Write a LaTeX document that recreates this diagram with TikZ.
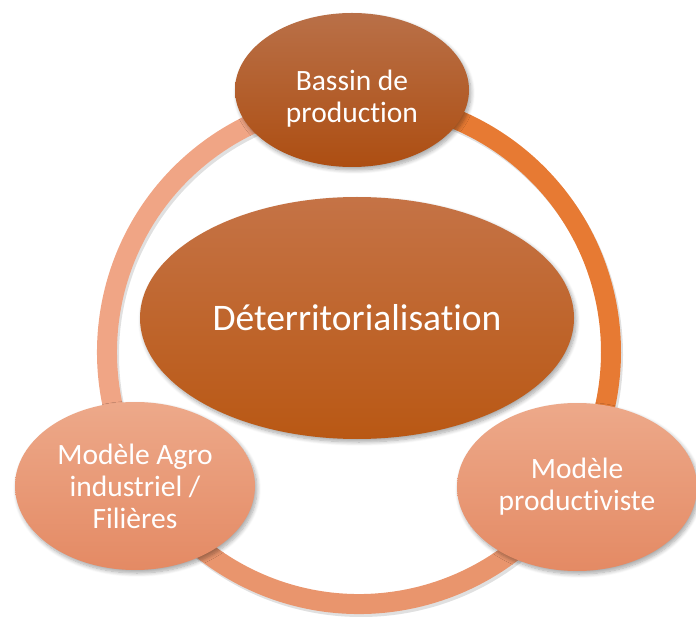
\documentclass[tikz,border=0pt]{standalone}
\usepackage{fontspec}
\setmainfont{Carlito}[Ligatures=NoCommon]
\usetikzlibrary{shapes.geometric,shadows.blur}
\definecolor{ringL}{HTML}{F0A585}
\definecolor{ringR}{HTML}{E77A33}
\definecolor{ringB}{HTML}{E9956D}
\definecolor{darkTop}{HTML}{B97048}
\definecolor{darkBot}{HTML}{AD4E12}
\definecolor{midTop}{HTML}{C57346}
\definecolor{midBot}{HTML}{B95814}
\definecolor{lightTop}{HTML}{EDA98A}
\definecolor{lightBot}{HTML}{E48A64}
\begin{document}
\begin{tikzpicture}[x=1pt,y=-1pt,
  bub/.style={ellipse, inner sep=0pt, text=white, align=center,
    blur shadow={shadow xshift=2pt, shadow yshift=-3pt, shadow opacity=35, shadow blur steps=8, shadow blur radius=4pt}},
  darkbub/.style={bub, top color=darkTop, bottom color=darkBot},
  midbub/.style={bub, top color=midTop, bottom color=midBot},
  lightbub/.style={bub, top color=lightTop, bottom color=lightBot},
  smalltext/.style={font=\fontsize{29.5}{32}\selectfont},
  lbl/.style={text=white, align=center, smalltext},
  ringline/.style={line width=20pt},
]
\useasboundingbox (0,0) rectangle (696,617);
\coordinate (c) at (359,352);
% ring shadow
\draw[line width=20pt, black, opacity=0.12] (361,355) circle[radius=252];
% ring arcs
\draw[ringline, ringR] (c) ++(-95:252) arc[start angle=-95, end angle=36, radius=252];
\draw[ringline, ringB] (c) ++(28:252) arc[start angle=28, end angle=153, radius=252];
\draw[ringline, ringL] (c) ++(145:252) arc[start angle=145, end angle=272, radius=252];
% ellipses
\node[darkbub, minimum width=234pt, minimum height=154pt] (top) at (352,90) {};
\node[lbl] (toptext) at (352,99) {Bassin de\\production};
\node[midbub, minimum width=434pt, minimum height=242pt, font=\fontsize{37.5}{44}\selectfont] (centre) at (357,318) {Déterritorialisation};
\node[lightbub, minimum width=240pt, minimum height=168pt, smalltext] (left) at (135,486) {Modèle Agro\\industriel /\\Filières};
\node[lightbub, minimum width=240pt, minimum height=168pt, smalltext] (right) at (577,487) {Modèle\\productiviste};
\end{tikzpicture}
\end{document}
